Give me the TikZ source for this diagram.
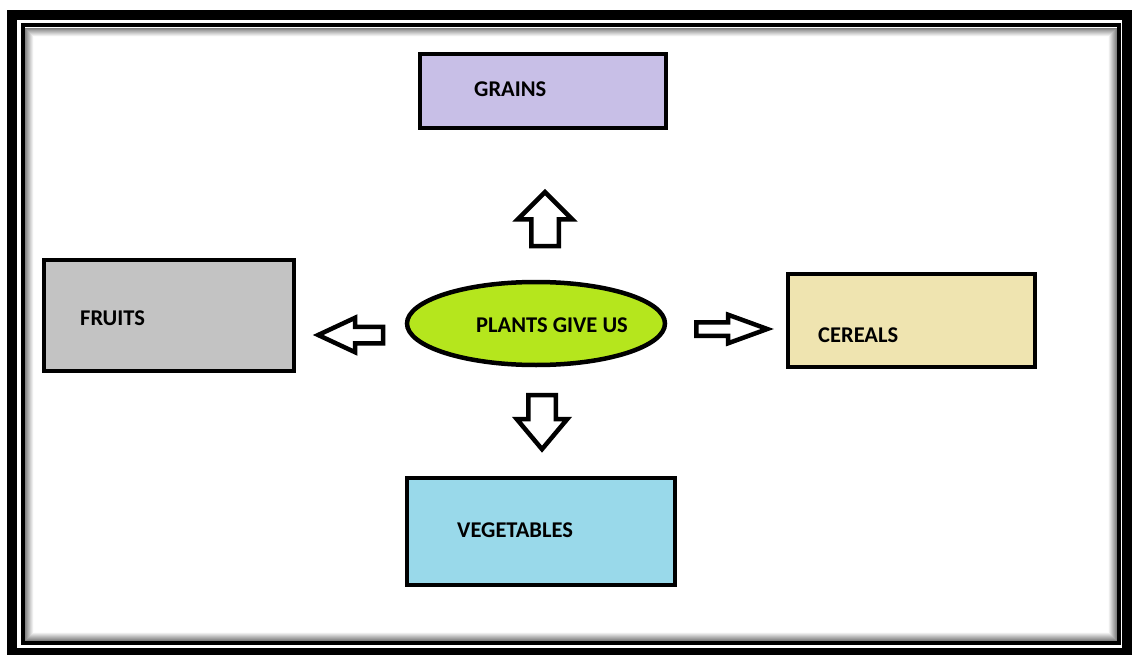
\documentclass[tikz,border=0pt]{standalone}
\usepackage{fontspec}
\setmainfont{Carlito}
\usetikzlibrary{positioning, shapes.geometric, shapes.arrows}
\definecolor{grainsfill}{HTML}{C8BFE7}
\definecolor{fruitsfill}{HTML}{C3C3C3}
\definecolor{cerealsfill}{HTML}{EFE4B0}
\definecolor{vegfill}{HTML}{99D9EA}
\definecolor{plantsfill}{HTML}{B5E61D}
\tikzset{
	every node/.style={
		align=center,
	},
	box/.style={draw, line width=4pt, rectangle},
	word/.style={inner sep=0pt, anchor=west, font=\bfseries\fontsize{22.5}{26}\selectfont},
	blockarrow/.style={draw, line width=4.5pt, fill=white, single arrow, single arrow head indent=0pt},
}

\begin{document}
\begin{tikzpicture}[x=1pt, y=-1pt]
    \useasboundingbox (0,0) rectangle (1132,655);
    \fill[white] (0,0) rectangle (1132,655);

    % frame
    \fill[black] (7,10) rectangle (1132,655);
    \fill[white] (17,20) rectangle (1122,648);
    \draw[line width=4pt] (23,25) rectangle (1119,643);
    \foreach \i [evaluate=\i as \g using int(55-6*\i)] in {1,...,9}
        \draw[black!\g, line width=1pt] (24.5+\i,27.5+\i) rectangle (1117.5-\i,641.5-\i);

    \node[box, fill=grainsfill, minimum width=246pt, minimum height=74pt] (grains) at (543,91) {};
    \node[box, fill=fruitsfill, minimum width=250pt, minimum height=111pt] (fruits) at (169,315.5) {};
    \node[box, fill=cerealsfill, minimum width=247pt, minimum height=93pt] (cereals) at (911.5,320.5) {};
    \node[box, fill=vegfill, minimum width=268pt, minimum height=107pt] (vegetables) at (541,531.5) {};
    \node[draw, line width=4.5pt, ellipse, fill=plantsfill, minimum width=258pt, minimum height=83pt, inner sep=0pt] (plants) at (536,323.5) {};

    \node[word, right=56pt of grains.west, yshift=2pt] (grainstext) {GRAINS};
    \node[word, right=38pt of fruits.west, yshift=-2.5pt] (fruitstext) {FRUITS};
    \node[word, right=32pt of cereals.west, yshift=-14.5pt] (cerealstext) {CEREALS};
    \node[word, right=52pt of vegetables.west, yshift=1.5pt] (vegetablestext) {VEGETABLES};
    \node[word, right=16pt of plants.center, anchor=center, yshift=-1.5pt] (plantstext) {PLANTS GIVE US};

    \node[blockarrow, shape border rotate=90, minimum height=54pt, inner sep=11.5pt, single arrow head extend=13.5pt, single arrow tip angle=90] (upArrow) at (545,226) {};
    \node[blockarrow, shape border rotate=270, minimum height=54pt, inner sep=11.5pt, single arrow head extend=11.5pt, single arrow tip angle=80] (downArrow) at (542,414) {};
    \node[blockarrow, shape border rotate=180, minimum height=65pt, inner sep=6pt, single arrow head extend=9pt, single arrow tip angle=50] (leftArrow) at (359.5,335) {};
    \node[blockarrow, minimum height=71pt, inner sep=4.5pt, single arrow head extend=7.5pt, single arrow tip angle=40] (rightArrow) at (722.5,329) {};
\end{tikzpicture}
\end{document}
